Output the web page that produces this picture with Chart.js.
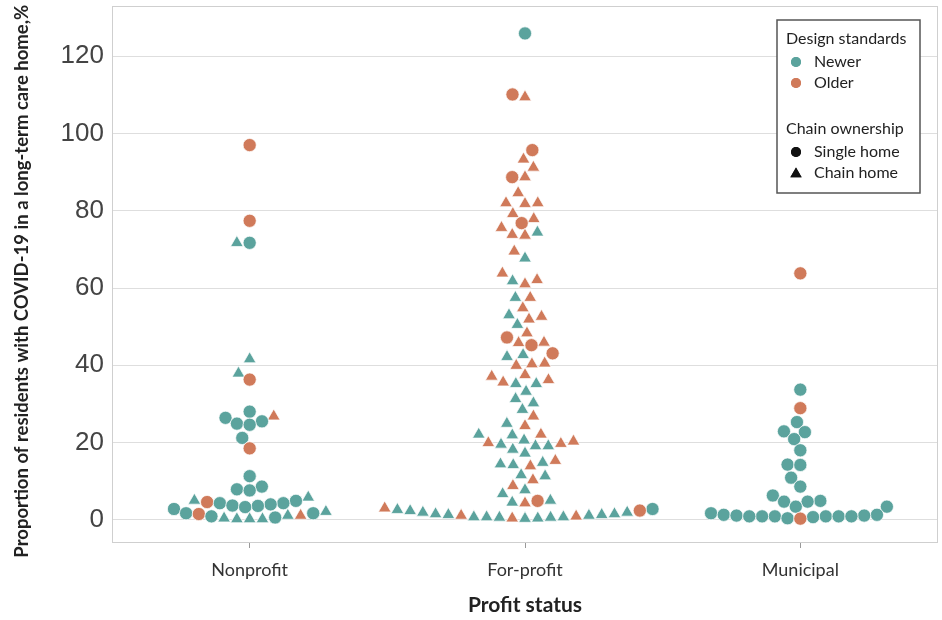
<!DOCTYPE html>
<html lang="en">
<head>
<meta charset="UTF-8">
<title>COVID-19 in long-term care homes by profit status</title>
<script src="https://cdn.jsdelivr.net/npm/chart.js"></script>
<style>
  html, body { margin: 0; padding: 0; background: #fff; }
</style>
</head>
<body>
<canvas id="swarm" width="942" height="620"></canvas>
<script>
const categories = ["Nonprofit", "For-profit", "Municipal"];
const yTicks = [0, 20, 40, 60, 80, 100, 120];

// design: N = newer, O = older ; chain: S = single home, C = chain home
const nonprofitValues = [97.0, 77.4, 71.7, 71.7, 41.6, 37.9, 36.3, 28.0, 26.8, 26.4, 25.5, 24.9, 24.6, 21.2, 18.5,
  11.3, 8.6, 7.9, 7.6, 5.8, 5.0, 4.9, 4.6, 4.3, 4.3, 4.0, 3.7, 3.6, 3.3, 2.8, 2.1, 1.7, 1.7, 1.5, 1.1, 1.1,
  0.9, 0.6, 0.4, 0.2, 0.2, 0.2];
const nonprofitDesign = ["O","O","N","N","N","N","O","N","O","N","N","N","N","N","O",
  "N","N","N","N","N","N","N","O","N","N","N","N","N","N","N","N","N","N","O","N","O",
  "N","N","N","N","N","N"];
const nonprofitChain = ["S","S","S","C","C","C","S","S","C","S","S","S","S","S","S",
  "S","S","S","S","C","C","S","S","S","S","S","S","S","S","S","C","S","S","S","C","C",
  "S","S","C","C","C","C"];

const forprofitValues = [125.9, 110.1, 109.4, 95.7, 93.3, 91.2, 88.7, 88.7, 84.6, 82.0, 81.8, 82.0, 79.2, 77.9, 76.8,
  75.6, 74.4, 73.8, 73.6, 69.5, 67.7, 63.8, 62.1, 61.8, 61.0, 57.5, 57.5, 54.8, 53.0, 52.6, 51.9, 50.5,
  48.3, 47.2, 45.9, 45.8, 45.2, 43.1, 42.7, 42.2, 40.5, 40.3, 39.9, 37.5, 37.1, 36.2, 35.6, 35.2, 35.2,
  33.2, 31.3, 30.2, 28.5, 26.8, 24.9, 24.3, 22.1, 22.1, 21.9, 20.6, 20.3, 19.9, 19.7, 19.5, 19.1, 19.1,
  18.2, 17.2, 15.3, 14.8, 14.4, 14.2, 13.9, 11.6, 11.3, 10.3, 8.8, 7.7, 6.7, 5.0, 4.9, 4.5, 4.3,
  2.8, 3.0, 2.6, 2.4, 2.3, 1.9, 1.9, 1.5, 1.5, 1.3, 1.3, 1.1, 1.1, 0.9, 0.7, 0.7, 0.7, 0.6, 0.6,
  0.4, 0.4, 0.3];
const forprofitDesign = ["N","O","O","O","O","O","O","O","O","O","O","O","O","O","O",
  "O","N","O","O","O","N","O","O","N","O","O","N","O","N","O","O","N",
  "O","O","O","O","O","O","N","N","O","O","O","O","O","O","O","N","N",
  "N","N","N","N","O","N","O","O","N","N","N","O","O","O","N","N","N",
  "N","N","O","N","N","N","O","N","N","O","O","N","N","N","O","N","O",
  "N","O","N","O","N","N","N","N","N","N","N","O","N","O","N","N","N","N","N",
  "O","N","N"];
const forprofitChain = ["S","S","C","S","C","C","C","S","C","C","C","C","C","C","S",
  "C","C","C","C","C","C","C","C","C","C","C","C","C","C","C","C","C",
  "C","S","C","C","S","S","C","C","C","C","C","C","C","C","C","C","C",
  "C","C","C","C","C","C","C","C","C","C","C","C","C","C","C","C","C",
  "C","C","C","C","C","C","C","C","C","C","C","C","C","C","S","C","C",
  "S","C","C","S","C","C","C","C","C","C","C","C","C","C","C","C","C","C","C",
  "C","C","C"];

const municipalValues = [63.8, 33.7, 28.9, 25.3, 22.9, 22.7, 20.9, 18.0, 14.3, 14.2, 10.9, 8.6, 6.3, 4.9, 4.7, 4.7,
  3.4, 3.4, 1.7, 1.3, 1.3, 1.1, 1.1, 0.9, 0.9, 0.9, 0.9, 0.9, 0.9, 0.7, 0.4, 0.3];
const municipalDesign = ["O","N","O","N","N","N","N","N","N","N","N","N","N","N","N","N",
  "N","N","N","N","N","N","N","N","N","N","N","N","N","N","N","O"];
const municipalChain = municipalValues.map(() => "S");

const groups = [
  { values: nonprofitValues, design: nonprofitDesign, chain: nonprofitChain },
  { values: forprofitValues, design: forprofitDesign, chain: forprofitChain },
  { values: municipalValues, design: municipalDesign, chain: municipalChain }
];

const TEAL = "#5ba39d";
const ORANGE = "#d07a5a";
const SANS = "Lato, 'Open Sans', sans-serif";
const DIAM = 12.8; // swarm spacing in px

// seaborn-like swarm: place points from low to high, as close to the centre as possible
function swarmOffsets(pix, d) {
  const order = pix.map((p, i) => i).sort((a, b) => pix[b] - pix[a]);
  const placed = [];
  const out = new Array(pix.length).fill(0);
  for (const i of order) {
    const y = pix[i];
    const near = placed.filter(p => Math.abs(p.y - y) < d);
    const cands = [0];
    near.forEach(p => {
      const h = Math.sqrt(d * d - (p.y - y) * (p.y - y));
      cands.push(p.x - h, p.x + h);
    });
    cands.sort((a, b) => Math.abs(a) - Math.abs(b));
    for (const c of cands) {
      const ok = near.every(p => (p.x - c) ** 2 + (p.y - y) ** 2 >= d * d - 0.01);
      if (ok) { out[i] = c; placed.push({ x: c, y: y }); break; }
    }
  }
  return out;
}

const framePlugin = {
  id: "frame",
  beforeDatasetsDraw(chart) {
    const { ctx, chartArea: a } = chart;
    ctx.save();
    ctx.strokeStyle = "#cfcfcf";
    ctx.lineWidth = 1;
    ctx.strokeRect(a.left + 0.5, a.top + 0.5, a.right - a.left - 1, a.bottom - a.top - 1);
    ctx.restore();
  }
};

const legendPlugin = {
  id: "twoLegends",
  afterDraw(chart) {
    const ctx = chart.ctx;
    ctx.save();
    ctx.fillStyle = "#fff";
    ctx.fillRect(777, 20, 143, 173);
    ctx.strokeStyle = "#555";
    ctx.lineWidth = 1.5;
    ctx.strokeRect(777, 20, 143, 173);
    ctx.font = "16px " + SANS;
    ctx.fillStyle = "#222";
    ctx.textBaseline = "middle";
    ctx.fillText("Design standards", 786, 39);
    ctx.fillText("Newer", 814, 62);
    ctx.fillText("Older", 814, 83);
    ctx.fillText("Chain ownership", 786, 129);
    ctx.fillText("Single home", 814, 152);
    ctx.fillText("Chain home", 814, 173);
    const mark = (style, y, color) => {
      ctx.fillStyle = color;
      Chart.helpers.drawPoint(ctx, { pointStyle: style, radius: style === "triangle" ? 6.5 : 5, borderWidth: 0 }, 796, y);
      ctx.fill();
    };
    mark("circle", 62, TEAL);
    mark("circle", 83, ORANGE);
    mark("circle", 152, "#111");
    mark("triangle", 174, "#111");
    ctx.restore();
  }
};

const datasets = groups.map((g, i) => ({
  label: categories[i],
  data: g.values.map((v, j) => ({ x: i, y: v, design: g.design[j], chain: g.chain[j] })),
  pointStyle: c => (c.raw && c.raw.chain === "C") ? "triangle" : "circle",
  pointRadius: c => (c.raw && c.raw.chain === "C") ? 7.3 : 6.6,
  pointHoverRadius: c => (c.raw && c.raw.chain === "C") ? 7.3 : 6.6,
  backgroundColor: c => (c.raw && c.raw.design === "O") ? ORANGE : TEAL,
  borderColor: "rgba(255,255,255,0.9)",
  borderWidth: 0.8
}));

const chart = new Chart(document.getElementById("swarm"), {
  type: "scatter",
  data: { datasets: datasets },
  options: {
    responsive: false,
    devicePixelRatio: 1,
    animation: false,
    layout: { autoPadding: false, padding: { top: 6, right: 4, left: 0, bottom: 0 } },
    plugins: { legend: { display: false }, tooltip: { enabled: false } },
    scales: {
      x: {
        type: "linear",
        min: -0.5,
        max: 2.5,
        afterBuildTicks: s => { s.ticks = categories.map((c, i) => ({ value: i })); },
        afterFit: s => { s.height = 77; s.paddingLeft = 0; s.paddingRight = 0; },
        ticks: {
          callback: v => categories[v],
          font: { family: SANS, size: 18 },
          color: "#333",
          padding: 11
        },
        grid: { drawOnChartArea: false, drawTicks: true, tickLength: 5, color: "#999" },
        border: { display: false },
        title: {
          display: true,
          text: "Profit status",
          font: { family: SANS, size: 21, weight: "bold" },
          color: "#222",
          padding: { top: 0, bottom: 2 }
        }
      },
      y: {
        min: -6,
        max: 133,
        afterBuildTicks: s => { s.ticks = yTicks.map(v => ({ value: v })); },
        afterFit: s => { s.width = 112; s.paddingTop = 0; s.paddingBottom = 0; },
        ticks: {
          font: { family: "'Liberation Sans', Arial, sans-serif", size: 26 },
          color: "#444",
          padding: 8
        },
        grid: { color: "#dedede", drawTicks: false },
        border: { display: false },
        title: {
          display: true,
          text: "Proportion of residents with COVID-19 in a long-term care home,%\u00a0\u00a0\u00a0",
          font: { family: SANS, size: 18.5, weight: "bold" },
          color: "#222",
          padding: { top: 11, bottom: 0 }
        }
      }
    }
  },
  plugins: [framePlugin, legendPlugin]
});

// spread the points sideways once the scales exist
(function layoutSwarm() {
  const xs = chart.scales.x, ys = chart.scales.y;
  const pxPerUnit = xs.getPixelForValue(1) - xs.getPixelForValue(0);
  chart.data.datasets.forEach((ds, i) => {
    const pix = ds.data.map(p => ys.getPixelForValue(p.y));
    const off = swarmOffsets(pix, DIAM);
    ds.data.forEach((p, j) => { p.x = i + off[j] / pxPerUnit; });
  });
  chart.update("none");
})();
</script>
</body>
</html>
